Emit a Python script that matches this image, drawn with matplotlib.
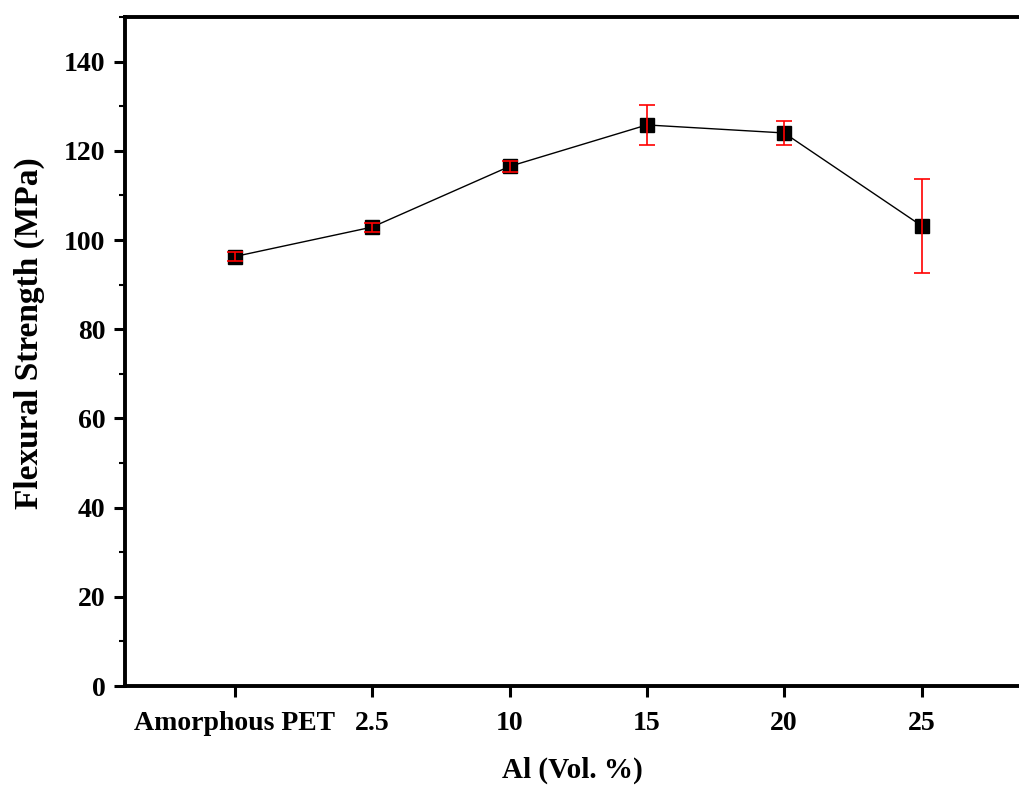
import matplotlib
matplotlib.use("Agg")
import matplotlib.pyplot as plt
from matplotlib.ticker import MultipleLocator

categories = ["Amorphous PET", "2.5", "10", "15", "20", "25"]
strength = [96.3, 102.9, 116.5, 125.8, 124.0, 103.2]
errors = [1.0, 1.0, 1.3, 4.5, 2.7, 10.5]

plt.rcParams['font.family'] = ['Liberation Serif', 'DejaVu Serif']
plt.rcParams['font.weight'] = 'bold'

fig = plt.figure(figsize=(10.19, 7.87), dpi=100)
ax = fig.add_axes([0.1227, 0.1283, 0.8773, 0.8501])

x = list(range(len(categories)))
ax.plot(x, strength, color='black', lw=1.0, zorder=2)
ax.errorbar(x, strength, yerr=errors, fmt='none', ecolor='red', elinewidth=1.2,
            capsize=5.5, capthick=1.2, zorder=4)
ax.plot(x, strength, linestyle='none', marker='s', markersize=10,
        color='black', zorder=3)

ax.set_xlim(-0.8, 5.71)
ax.set_ylim(0, 150)
ax.set_xticks(x)
ax.set_xticklabels(categories)
ax.yaxis.set_major_locator(MultipleLocator(20))
ax.yaxis.set_minor_locator(MultipleLocator(10))

for s in ['left', 'bottom', 'top']:
    ax.spines[s].set_linewidth(2.8)
ax.spines['right'].set_visible(False)

ax.tick_params(axis='both', which='major', direction='out', length=8, width=2.2,
               labelsize=20, pad=6)
ax.tick_params(axis='x', which='major', pad=10)
ax.tick_params(axis='y', which='minor', direction='out', length=4, width=1.5)
ax.tick_params(top=False, right=False)
for lab in ax.get_xticklabels() + ax.get_yticklabels():
    lab.set_fontweight('bold')

ax.set_xlabel("Al (Vol. %)", fontsize=21, fontweight='bold', labelpad=15)
ax.set_ylabel("Flexural Strength (MPa)", fontsize=24, fontweight='bold', labelpad=14)
ax.yaxis.label.set_y(0.528)

fig.savefig("out.png", dpi=100)
